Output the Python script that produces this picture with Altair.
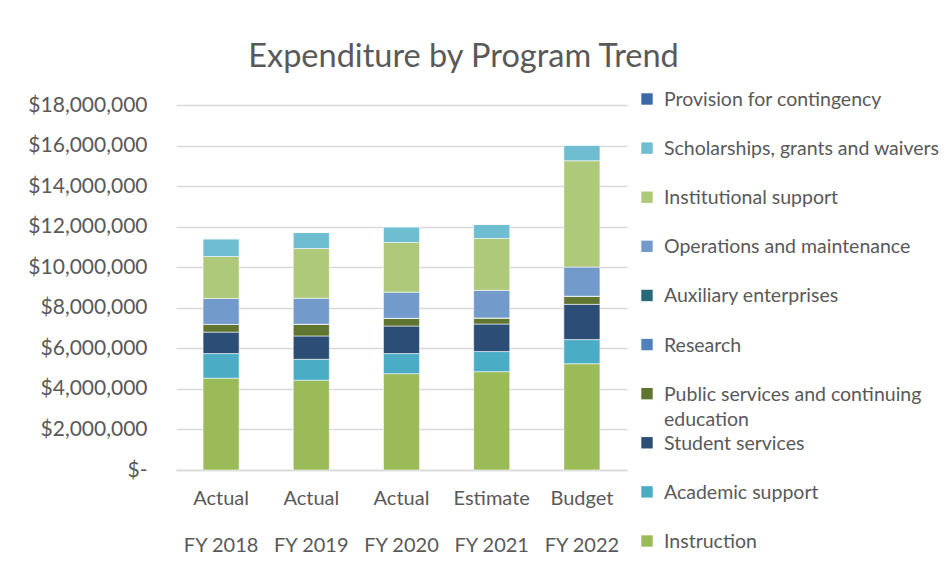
import altair as alt
import pandas as pd

stages = ["Actual", "Actual", "Actual", "Estimate", "Budget"]
fiscal_years = ["FY 2018", "FY 2019", "FY 2020", "FY 2021", "FY 2022"]

# bottom-to-top stacking order
programs = [
    "Instruction",
    "Academic support",
    "Student services",
    "Public services and continuing education",
    "Research",
    "Auxiliary enterprises",
    "Operations and maintenance",
    "Institutional support",
    "Scholarships, grants and waivers",
    "Provision for contingency",
]
colors = [
    "#9BBB59", "#4BACC6", "#2C4D75", "#5F7530", "#4F81BD",
    "#276A7C", "#729ACA", "#AFC97A", "#6FBDD1", "#3A69A5",
]
legend_labels = [
    "Instruction",
    "Academic support",
    "Student services",
    "Public services and continuing\neducation",
    "Research",
    "Auxiliary enterprises",
    "Operations and maintenance",
    "Institutional support",
    "Scholarships, grants and waivers",
    "Provision for contingency",
]

instruction = [4530000, 4430000, 4750000, 4850000, 5240000]
academic_support = [1210000, 1030000, 990000, 990000, 1190000]
student_services = [1060000, 1150000, 1360000, 1360000, 1740000]
public_services = [380000, 580000, 380000, 300000, 400000]
research = [0, 0, 0, 0, 0]
auxiliary = [0, 0, 0, 0, 0]
operations = [1280000, 1280000, 1290000, 1360000, 1440000]
institutional = [2070000, 2450000, 2450000, 2560000, 5240000]
scholarships = [870000, 790000, 770000, 690000, 770000]
contingency = [0, 0, 0, 0, 0]

series = [instruction, academic_support, student_services, public_services, research,
          auxiliary, operations, institutional, scholarships, contingency]

rows = []
for pi, (prog, vals) in enumerate(zip(programs, series)):
    for s, fy, v in zip(stages, fiscal_years, vals):
        rows.append({"period": s + "|" + fy, "program": prog, "idx": pi, "value": v})
df = pd.DataFrame(rows)
periods = [s + "|" + fy for s, fy in zip(stages, fiscal_years)]

leg = pd.DataFrame({"program": programs, "label": legend_labels})
legend_order = programs[::-1]

FONT = "Lato"
TXT = "#595959"

color_scale = alt.Scale(domain=programs, range=colors)

bars = alt.Chart(df).mark_bar(stroke="white", strokeWidth=0.8, strokeOpacity=0.7).encode(
    x=alt.X("period:N", sort=periods,
            scale=alt.Scale(paddingInner=0.6, paddingOuter=0.3),
            axis=alt.Axis(title=None, labelExpr="split(datum.label, '|')", labelAngle=0,
                          labelFontSize=20, labelColor=TXT, labelFont=FONT,
                          labelLineHeight=47, labelBaseline="top", labelPadding=18,
                          ticks=False, domainColor="#D9D9D9", domainWidth=1.3)),
    y=alt.Y("value:Q", stack="zero",
            scale=alt.Scale(domain=[0, 18000000], nice=False),
            axis=alt.Axis(title=None, values=[i * 2000000 for i in range(10)],
                          labelExpr="datum.value == 0 ? '$-\u00a0\u00a0\u00a0' : '$' + format(datum.value, ',')",
                          labelFontSize=21, labelColor=TXT, labelFont=FONT, labelPadding=29,
                          ticks=False, domain=False, gridColor="#D9D9D9", gridWidth=1.3)),
    color=alt.Color("program:N", scale=color_scale, legend=None),
    order=alt.Order("idx:Q", sort="ascending"),
)

leg_y = alt.Y("program:N", scale=alt.Scale(type="point", domain=legend_order, range=[-6, 436], padding=0),
              axis=None)

leg_sq = alt.Chart(leg).mark_square(size=130, opacity=1).encode(
    x=alt.value(471),
    y=leg_y,
    color=alt.Color("program:N", scale=color_scale, legend=None),
)
leg_txt = alt.Chart(leg).mark_text(align="left", baseline="alphabetic", dy=7, lineBreak="\n",
                                   lineHeight=25, font=FONT, fontSize=19.5, color=TXT).encode(
    x=alt.value(488),
    y=leg_y,
    text="label:N",
)

chart = alt.layer(bars, leg_sq, leg_txt).resolve_scale(y="independent").properties(
    width=451, height=365,
    autosize=alt.AutoSizeParams(type="none"),
    padding={"left": 168, "top": 97, "right": 316, "bottom": 98},
    title=alt.TitleParams("Expenditure by Program Trend", fontSize=32.5, font=FONT, color=TXT,
                          fontWeight="normal", anchor="middle", dx=62, offset=-9,
                          baseline="alphabetic"),
).configure_view(stroke=None)

chart.save("out.html", embed_options={"renderer": "svg", "actions": False})
